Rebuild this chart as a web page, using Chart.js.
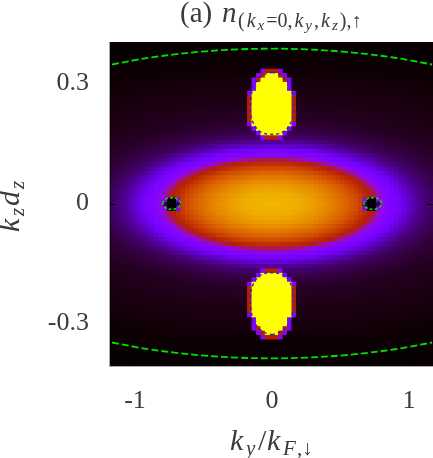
<!DOCTYPE html>
<html>
<head>
<meta charset="utf-8">
<script src="https://cdn.jsdelivr.net/npm/chart.js@4"></script>
<style>html,body{margin:0;padding:0;background:#fff;overflow:hidden}#c{display:block}</style>
</head>
<body>
<canvas id="c" width="433" height="458"></canvas>
<script>
const kyTicks = [-1, 0, 1];
const kzTicks = [-0.3, 0, 0.3];
const kyTickLabels = ['-1', '0', '1'];
const kzTickLabels = ['-0.3', '0', '0.3'];
const kyStep = 0.0324;
const kzStep = 0.0111;

// density (per mille of the colour range), one quadrant:
// row = |kz| index from the centre, column = |ky| index from the centre
const density = [
[895,893,890,888,885,883,880,872,864,854,843,832,821,804,788,769,748,726,697,668,627,50,0,0,50,337,274,251,230,203,173,144,122,99,87,75,64],
[889,889,887,886,883,881,877,869,861,850,840,829,817,800,784,765,745,722,693,664,620,250,0,0,250,324,268,250,228,201,171,142,121,97,86,74,63],
[883,883,882,881,879,873,866,859,851,841,831,822,806,791,774,756,734,708,680,648,602,557,509,456,387,302,258,246,220,192,163,134,116,93,83,72,61],
[871,871,869,866,862,857,851,844,835,826,816,801,787,771,755,735,713,686,658,616,573,527,477,422,336,273,251,233,205,178,150,126,103,90,78,67,59],
[849,849,847,844,840,835,830,825,815,804,792,779,764,747,730,706,681,653,613,573,530,483,430,352,285,255,240,214,187,160,133,115,97,83,72,61,56],
[825,824,823,819,814,808,801,793,784,773,760,746,732,711,689,666,634,596,559,522,472,421,343,283,255,241,216,190,163,136,118,101,86,75,64,58,51],
[786,785,783,781,776,769,762,753,744,733,718,701,683,663,633,600,566,530,491,445,385,310,266,251,235,211,186,160,135,118,101,86,75,65,58,52,46],
[739,738,736,733,728,720,711,701,689,675,661,636,610,583,553,521,486,445,394,330,279,255,245,222,199,176,151,130,113,97,84,73,64,58,52,46,41],
[673,673,671,666,661,651,638,624,607,588,568,545,519,491,458,422,365,307,272,255,245,225,204,182,159,136,121,105,90,80,70,61,56,51,45,40,38],
[574,573,570,564,557,548,534,520,503,484,461,434,399,352,306,278,257,249,237,218,199,179,158,137,122,108,94,83,74,65,59,54,48,43,39,37,34],
[456,455,450,444,434,423,405,380,352,321,297,275,258,253,246,233,218,202,184,166,148,131,119,106,93,83,74,66,60,55,50,45,40,38,35,33,30],
[280,279,276,271,265,259,256,253,250,246,238,227,216,204,190,176,162,146,131,121,109,98,87,80,72,64,59,55,50,45,41,38,36,34,31,29,28],
[224,224,222,219,216,212,207,200,193,185,175,165,154,143,132,123,114,105,95,87,80,73,66,61,57,52,48,44,40,38,36,34,31,29,27,25,23],
[157,156,155,152,149,145,140,134,130,125,119,113,107,99,92,86,81,75,70,64,60,57,53,49,45,42,39,37,35,33,31,29,26,25,23,21,20],
[105,105,104,103,101,98,95,91,88,85,82,78,74,70,66,62,59,57,54,51,48,44,41,39,37,36,34,32,30,28,26,24,22,21,20,20,19],
[500,500,260,70,70,68,66,64,62,61,59,57,55,53,51,49,46,43,41,39,38,36,34,33,31,29,27,26,24,22,21,21,20,19,18,18,17],
[1000,1000,1000,260,52,51,50,49,48,47,45,43,42,41,39,38,37,35,34,33,31,30,28,26,25,24,22,21,20,20,19,18,18,17,16,16,15],
[1000,1000,1000,1000,260,38,38,38,37,36,36,35,34,33,32,31,30,29,27,26,25,24,22,22,21,20,20,19,19,18,17,17,16,15,15,14,14],
[1000,1000,1000,1000,1000,260,31,31,30,30,29,28,27,26,26,25,24,23,22,22,21,21,20,20,19,19,18,18,17,16,16,15,15,14,14,13,13],
[1000,1000,1000,1000,1000,500,24,24,23,23,22,22,22,21,21,21,20,20,20,19,19,19,18,18,17,17,16,16,15,15,14,14,13,13,13,12,12],
[1000,1000,1000,1000,1000,500,22,22,22,21,21,21,20,20,20,19,19,18,18,18,17,17,16,16,15,15,15,14,14,13,13,13,12,12,11,11,11],
[1000,1000,1000,1000,1000,500,19,19,19,18,18,18,18,17,17,16,16,16,16,15,15,15,14,14,13,13,13,12,12,12,11,11,11,10,10,9,9],
[1000,1000,1000,1000,1000,500,16,16,15,15,15,15,15,15,14,14,14,14,14,13,13,13,13,12,12,12,11,11,11,11,11,10,10,10,9,9,8],
[1000,1000,1000,1000,1000,500,14,14,14,13,13,13,13,13,13,13,12,12,12,12,12,12,11,11,11,11,10,10,10,10,9,9,8,8,8,7,7],
[1000,1000,1000,1000,1000,500,13,13,12,12,12,12,12,12,12,12,12,11,11,11,11,11,10,10,10,10,10,9,9,9,8,8,8,7,7,7,6],
[1000,1000,1000,1000,1000,260,11,11,11,11,11,11,10,10,10,10,10,10,10,9,9,9,9,9,8,8,8,8,7,7,7,7,6,6,6,5,5],
[1000,1000,1000,1000,260,10,10,10,10,9,9,9,9,9,9,9,9,9,9,8,8,8,8,8,7,7,7,7,6,6,6,5,5,5,5,4,4],
[1000,1000,1000,1000,260,8,8,8,8,8,8,8,8,8,7,7,7,7,7,7,7,6,6,6,6,6,6,5,5,5,5,4,4,4,4,3,3],
[1000,1000,1000,500,260,7,7,7,7,7,6,6,6,6,6,6,6,6,6,6,5,5,5,5,5,5,4,4,4,4,4,4,3,3,3,3,3],
[1000,1000,500,260,5,5,5,5,5,5,5,5,5,5,5,5,5,4,4,4,4,4,4,4,4,4,3,3,3,3,3,3,3,3,3,2,2],
[500,500,260,4,4,4,4,4,4,4,4,4,4,4,4,3,3,3,3,3,3,3,3,3,3,3,3,3,3,2,2,2,2,2,2,2,2],
[3,3,3,3,3,3,3,3,3,3,3,3,3,3,3,3,3,3,3,3,3,3,3,3,3,3,2,2,2,2,2,2,2,2,2,2,2],
[2,2,2,2,2,2,2,2,2,2,2,2,2,2,2,2,2,2,2,2,2,2,2,2,2,2,2,2,2,2,2,2,2,1,1,1,1],
[2,2,2,2,2,2,2,2,2,2,2,2,2,2,2,2,2,2,2,2,1,1,1,1,1,1,1,1,1,1,1,1,1,1,1,1,1],
[1,1,1,1,1,1,1,1,1,1,1,1,1,1,1,1,1,1,1,1,1,1,1,1,1,1,1,1,1,1,1,1,1,1,1,1,1],
[1,1,1,1,1,1,1,1,1,1,1,1,1,1,1,1,1,1,1,1,1,1,1,1,1,1,1,1,1,1,1,1,1,1,1,1,1],
[1,1,1,1,1,1,1,1,1,1,1,1,1,1,1,1,1,1,1,1,1,1,1,1,1,1,1,1,1,1,1,1,1,1,1,1,1]
];

// green dashed boundary (upper half; the lower half is its mirror)
const boundaryKy = [-1.168,-1,-0.883,-0.7,-0.518,-0.25,0,0.25,0.518,0.7,0.883,1,1.168];
const boundaryKz = [0.3475,0.3585,0.365,0.3733,0.3796,0.3853,0.387,0.3853,0.3796,0.3733,0.365,0.3585,0.3475];
// blue dashed outline of the blob (right half, top to bottom, upper blob)
const blobKy = [0,0.056,0.102,0.136,0.153,0.158,0.153,0.131,0.1,0.056,0];
const blobKz = [0.328,0.3225,0.31,0.2925,0.2675,0.2425,0.2175,0.1975,0.183,0.175,0.173];
// green dashed outline of the black spots, around their centres
const spotCentreKy = 0.734;
const spotDy = [-0.066,-0.045,0,0.045,0.066,0.045,0,-0.045,-0.066];
const spotDz = [0,0.0105,0.0145,0.0105,0,-0.0105,-0.0145,-0.0105,0];

const INK = '#3a3a3a';
const titleRuns = [
  {x:180,t:'(a)',s:29,dy:0},
  {x:222,t:'n',s:29,i:1,dy:0},
  {x:238,t:'(',s:20,dy:5},{t:'k',s:20,i:1,dy:5},{t:'x',s:15,i:1,dy:8},{t:'=0,',s:20,dy:5},
  {t:'k',s:20,i:1,dy:5},{t:'y',s:15,i:1,dy:8},{t:',',s:20,dy:5},
  {t:'k',s:20,i:1,dy:5},{t:'z',s:15,i:1,dy:8},{t:'),↑',s:20,dy:5}
];
const xTitleRuns = [
  {x:230,t:'k',s:30,i:1,dy:0},{x:246,t:'y',s:21,i:1,dy:5},{x:258,t:'/',s:30,dy:0},
  {x:267,t:'k',s:30,i:1,dy:0},{x:283,t:'F',s:21,i:1,dy:5},{x:297,t:',',s:21,dy:5},{x:302,t:'↓',s:21,dy:5}
];
const yTitleRuns = [
  {x:0,t:'k',s:30,i:1,dy:0},{x:16,t:'z',s:21,i:1,dy:5},{x:26,t:'d',s:30,i:1,dy:0},{x:43,t:'z',s:21,i:1,dy:5}
];

function palette(v){
  const x = v/1000;
  const r = Math.sqrt(x), g = x*x*x, b = Math.max(0, Math.sin(2*Math.PI*x));
  return `rgb(${Math.round(r*255)},${Math.round(g*255)},${Math.round(b*255)})`;
}

const cells = [], cellColors = [];
const nR = density.length - 1, nC = density[0].length - 1;
for (let r = -nR; r <= nR; r++) {
  for (let c = -nC; c <= nC; c++) {
    cells.push({x: c*kyStep, y: r*kzStep});
    cellColors.push(palette(density[Math.abs(r)][Math.abs(c)]));
  }
}

function pts(xs, ys, sx, sy, ox){
  return xs.map((v,i)=>({x:(ox||0)+sx*v, y:sy*ys[i]}));
}
function lineDs(data, color, dash, width, tension){
  return {type:'line', data, borderColor:color, borderWidth:width, borderDash:dash, pointRadius:0,
          fill:false, tension, showLine:true, order:0, clip:true};
}
const blobRing = (sy) => pts(blobKy, blobKz, 1, sy).concat(pts(blobKy.slice().reverse(), blobKz.slice().reverse(), -1, sy));
const BLUE = '#2a22e0', GREEN = '#00e000';
const datasets = [
  lineDs(pts(boundaryKy,boundaryKz,1,1),GREEN,[7,3],1.8,0.4),
  lineDs(pts(boundaryKy,boundaryKz,1,-1),GREEN,[7,3],1.8,0.4),
  lineDs(blobRing(1),BLUE,[3,3],1.4,0.3),
  lineDs(blobRing(-1),BLUE,[3,3],1.4,0.3),
  lineDs(pts(spotDy,spotDz,1,1,spotCentreKy),GREEN,[3,2],1.5,0.4),
  lineDs(pts(spotDy,spotDz,1,1,-spotCentreKy),GREEN,[3,2],1.5,0.4),
  {type:'scatter', data:cells, pointStyle:'rect', pointRadius:3.9, pointHoverRadius:3.9,
   pointBackgroundColor:cellColors, pointBorderWidth:0, order:1, clip:true}
];

function drawRuns(ctx, runs, x0, y0){
  let x = x0;
  ctx.fillStyle = INK;
  ctx.textAlign = 'left';
  ctx.textBaseline = 'alphabetic';
  for (const r of runs){
    if (r.x !== undefined) x = x0 + r.x;
    ctx.font = `${r.i?'italic ':''}${r.s}px "Liberation Serif"`;
    ctx.fillText(r.t, x, y0 + r.dy);
    x += ctx.measureText(r.t).width + (r.s < 25 ? 2 : 0);
  }
}
const textPlugin = {
  id:'mathText',
  afterDraw(chart){
    const ctx = chart.ctx;
    ctx.save();
    drawRuns(ctx, titleRuns, 0, 22);
    drawRuns(ctx, xTitleRuns, 0, 450);
    ctx.translate(19, 232);
    ctx.rotate(-Math.PI/2);
    drawRuns(ctx, yTitleRuns, 0, 0);
    ctx.restore();
  }
};
const plotBackdrop = {
  id:'plotBackdrop',
  beforeDatasetsDraw(chart){
    const {ctx, chartArea:a} = chart;
    ctx.save();
    ctx.fillStyle = '#000';
    ctx.fillRect(a.left, a.top, a.right-a.left, a.bottom-a.top);
    ctx.restore();
  }
};
const innerTicks = {
  id:'innerTicks',
  afterDatasetsDraw(chart){
    const {ctx, chartArea:a, scales:{x,y}} = chart;
    ctx.save();
    ctx.strokeStyle = '#000'; ctx.lineWidth = 1;
    ctx.beginPath();
    for (const v of kzTicks){
      const p = Math.round(y.getPixelForValue(v))+0.5;
      ctx.moveTo(a.left,p); ctx.lineTo(a.left+6,p);
      ctx.moveTo(a.right,p); ctx.lineTo(a.right-6,p);
    }
    for (const v of kyTicks){
      const p = Math.round(x.getPixelForValue(v))+0.5;
      ctx.moveTo(p,a.bottom); ctx.lineTo(p,a.bottom-6);
      ctx.moveTo(p,a.top); ctx.lineTo(p,a.top+6);
    }
    ctx.moveTo(a.left+1,a.top); ctx.lineTo(a.left+1,a.bottom);
    ctx.stroke();
    ctx.restore();
  }
};

const tickFont = {family:'"Liberation Serif"', size:26};
new Chart(document.getElementById('c'), {
  data:{datasets},
  plugins:[plotBackdrop, textPlugin, innerTicks],
  options:{
    responsive:false, animation:false, events:[],
    layout:{autoPadding:false, padding:{top:42,left:0,right:0,bottom:0}},
    plugins:{legend:{display:false}, tooltip:{enabled:false}, title:{display:false}},
    scales:{
      x:{type:'linear', min:-1.19, max:1.175,
         afterBuildTicks(s){ s.ticks = kyTicks.map(v=>({value:v})); },
         afterFit(s){ s.height = 92; s.paddingLeft = 0; s.paddingRight = 0; },
         grid:{display:false, drawTicks:false},
         border:{display:true, color:'#aaaaaa', width:1, z:1},
         ticks:{color:INK, font:tickFont, padding:20, maxRotation:0,
                callback(v){ return kyTickLabels[kyTicks.indexOf(v)]; }}},
      y:{type:'linear', min:-0.40625, max:0.40375,
         afterBuildTicks(s){ s.ticks = kzTicks.map(v=>({value:v})); },
         afterFit(s){ s.width = 109; s.paddingTop = 0; s.paddingBottom = 0; },
         grid:{display:false, drawTicks:false},
         border:{display:true, color:'#aaaaaa', width:1, z:1},
         ticks:{color:INK, font:tickFont, padding:20,
                callback(v){ return kzTickLabels[kzTicks.indexOf(v)]; }}}
    }
  }
});
</script>
</body>
</html>
